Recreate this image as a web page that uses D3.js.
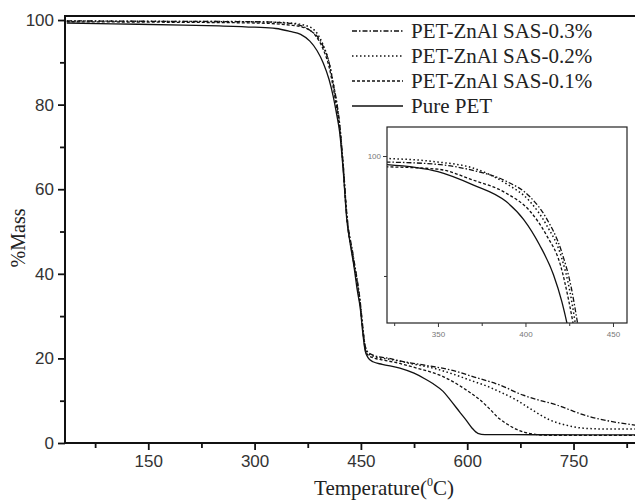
<!DOCTYPE html>
<html><head><meta charset="utf-8">
<script src="https://cdn.jsdelivr.net/npm/d3@7"></script>
<style>body{margin:0;background:#fff}svg{display:block}</style>
</head><body>
<svg id="c" width="635" height="500"></svg>
<script>
// ---------- data ----------
const seriesNames = ["PET-ZnAl SAS-0.3%","PET-ZnAl SAS-0.2%","PET-ZnAl SAS-0.1%","Pure PET"];

// main chart: temperature (°C) and %mass
const tempPure = [35,100,200,250,300,330,350,365,378,388,397,405,411,416,420,425,430,435,440,445,449,453,456,460,467,480,505,525,540,552,566,576,590,599,607,615,625,700,850];
const massPure = [99.3,99.1,98.8,98.6,98.3,98.0,97.3,96.6,95.0,92.8,89.8,86.0,81.9,77.5,73.5,64.5,53,47,42,36,32,25.5,21.8,20.2,19.2,18.6,17.7,16.5,15.2,14.0,12.2,10.2,7.2,5.3,3.5,2.3,2.0,1.95,1.9];

const temp01 = [35,150,300,350,370,385,397,405,411,416,420,425,430,439,449,453,456,460,470,482,505,529,550,566,585,599,618,632,645,656,670,693,720,850];
const mass01 = [99.6,99.5,99.3,98.8,98.2,96.5,93,89,84,79,74.5,65,53.5,43.5,32.5,26,22.3,20.8,20,19.6,18.8,17.7,16.7,15.7,14,12.5,10.2,8,5.8,4.5,3.2,2.1,1.8,1.8];

const temp02 = [35,150,300,350,370,385,397,405,411,416,420,425,430,439,449,453,456,460,470,490,520,552,580,605,627,646,669,690,717,740,764,800,850];
const mass02 = [99.8,99.7,99.6,99.3,98.8,97.5,94,90,85,80,75,65.5,54,44,33,26.5,22.8,21.2,20.4,19.8,18.8,17.7,16.3,14.8,13.5,12.1,10.2,8,5.4,4.2,3.5,3.3,3.3];

const temp03 = [35,150,300,350,378,397,405,411,416,420,425,430,439,449,453,456,460,470,490,505,540,576,610,632,646,679,700,726,750,773,800,834,850];
const mass03 = [99.8,99.7,99.6,99.2,97.6,93.7,90,85,80.5,75.5,66,54.5,44.5,33.5,27,23,21.5,20.6,20,19.4,18.4,17.3,15.6,14.5,13.7,11.3,10.2,9,7.5,6.2,5.2,4.3,4.0];

// inset (zoom of the onset of decomposition)
const insetTempPure = [320,350,370,389,399,408,416,420.7,423.5,426];
const insetMassPure = [99.3,98.7,97.6,96.2,94.7,92.6,90.1,87.9,86.2,84.5];
const insetTemp01 = [320,350,370,389,402.6,412,420,424.5,427,429];
const insetMass01 = [99.1,98.9,98.0,96.9,95.4,93.4,90.9,88.1,86.2,84.5];
const insetTemp02 = [320,350,370,389,402.6,412,420.7,425.4,428.3,430];
const insetMass02 = [99.8,99.5,99.0,97.7,96.2,94.25,91.5,88.7,86.2,84.5];
const insetTemp03 = [320,350,370,389,402.6,412,420.7,426.2,429.6,431.5];
const insetMass03 = [99.5,99.3,98.8,97.9,96.6,94.8,92.0,89.0,86.2,84.5];

// ticks
const xMajorTicks = [150,300,450,600,750];
const xMinorTicks = [75,225,375,525,675,825];
const yMajorTicks = [0,20,40,60,80,100];
const yMinorTicks = [10,30,50,70,90];
const insetXMajor = [350,400,450];
const insetXMinor = [325,375,425];
const insetYMajor = [100];
const insetYMinor = [90];

// ---------- drawing ----------
const dashes = ["5,2,1.5,2","1.5,2.5","3,2",null];
const widths = [1.3,1.5,1.3,1.3];
const mainT = [temp03,temp02,temp01,tempPure];
const mainM = [mass03,mass02,mass01,massPure];
const insT = [insetTemp03,insetTemp02,insetTemp01,insetTempPure];
const insM = [insetMass03,insetMass02,insetMass01,insetMassPure];

const svg = d3.select("#c");
const x = d3.scaleLinear().domain([32.5,850]).range([65,644.4]);
const y = d3.scaleLinear().domain([0,101]).range([443,15.8]);

svg.append("defs").append("clipPath").attr("id","mainclip")
  .append("rect").attr("x",65).attr("y",15).attr("width",575).attr("height",428);

const line = d3.line().x(d=>x(d[0])).y(d=>y(d[1])).curve(d3.curveMonotoneX);
const gCurves = svg.append("g").attr("clip-path","url(#mainclip)");
mainT.forEach((T,i)=>{
  const pts = T.map((t,j)=>[t,mainM[i][j]]);
  gCurves.append("path").attr("d",line(pts)).attr("fill","none")
    .attr("stroke","#111").attr("stroke-width",widths[i])
    .attr("stroke-dasharray",dashes[i]);
});

// axes
const axisColor = "#111";
const xAxis = svg.append("g").attr("transform","translate(0,443)");
xAxis.call(d3.axisBottom(x).tickValues(xMajorTicks).tickSize(7).tickPadding(5).tickFormat(d3.format("d")));
const xMinor = svg.append("g").attr("transform","translate(0,443)");
xMinor.call(d3.axisBottom(x).tickValues(xMinorTicks).tickSize(5).tickFormat(""));
const yAxis = svg.append("g").attr("transform","translate(65,0)");
yAxis.call(d3.axisLeft(y).tickValues(yMajorTicks).tickSize(7).tickPadding(4).tickFormat(d3.format("d")));
const yMinor = svg.append("g").attr("transform","translate(65,0)");
yMinor.call(d3.axisLeft(y).tickValues(yMinorTicks).tickSize(5).tickFormat(""));
[xAxis,xMinor,yAxis,yMinor].forEach(g=>{
  g.select(".domain").remove();
  g.selectAll("line").attr("stroke",axisColor).attr("stroke-width",1.8);
  g.selectAll("text").attr("font-family","Liberation Sans, Arial, sans-serif")
    .attr("font-size",17).attr("fill","#333");
});
// axis lines and top frame
svg.append("line").attr("x1",64).attr("x2",635).attr("y1",443).attr("y2",443).attr("stroke",axisColor).attr("stroke-width",2);
svg.append("line").attr("x1",65).attr("x2",65).attr("y1",15).attr("y2",444).attr("stroke",axisColor).attr("stroke-width",2);
svg.append("line").attr("x1",64).attr("x2",635).attr("y1",16).attr("y2",16).attr("stroke",axisColor).attr("stroke-width",2);

// axis titles
const xt = svg.append("text").attr("x",384).attr("y",495).attr("text-anchor","middle")
  .attr("font-family","Liberation Serif, Times New Roman, serif").attr("font-size",21).attr("fill","#222");
xt.append("tspan").text("Temperature(");
xt.append("tspan").attr("font-size",12).attr("dy",-9).text("0");
xt.append("tspan").attr("dy",9).text("C)");
svg.append("text").attr("transform","translate(25,238) rotate(-90)").attr("text-anchor","middle")
  .attr("font-family","Liberation Serif, Times New Roman, serif").attr("font-size",20).attr("fill","#222")
  .text("%Mass");

// legend
const legend = svg.append("g");
seriesNames.forEach((name,i)=>{
  const by = 38 + i*25;
  legend.append("line").attr("x1",352).attr("x2",403).attr("y1",by-7).attr("y2",by-7)
    .attr("stroke","#111").attr("stroke-width",widths[i]).attr("stroke-dasharray",dashes[i]);
  legend.append("text").attr("x",411).attr("y",by)
    .attr("font-family","Liberation Serif, Times New Roman, serif").attr("font-size",21).attr("fill","#222")
    .text(name);
});

// inset
const ix = d3.scaleLinear().domain([320.9,458]).range([387,627]);
const iy = d3.scaleLinear().domain([86.08,102.42]).range([323,127]);
const inset = svg.append("g");
inset.append("rect").attr("x",387).attr("y",127).attr("width",240).attr("height",196).attr("fill","#fff");
svg.select("defs").append("clipPath").attr("id","insetclip")
  .append("rect").attr("x",387).attr("y",127).attr("width",240).attr("height",196);
const iline = d3.line().x(d=>ix(d[0])).y(d=>iy(d[1])).curve(d3.curveMonotoneX);
const gi = inset.append("g").attr("clip-path","url(#insetclip)");
insT.forEach((T,i)=>{
  const pts = T.map((t,j)=>[t,insM[i][j]]);
  gi.append("path").attr("d",iline(pts)).attr("fill","none")
    .attr("stroke","#111").attr("stroke-width",widths[i])
    .attr("stroke-dasharray",dashes[i]);
});
inset.append("rect").attr("x",387).attr("y",127).attr("width",240).attr("height",196)
  .attr("fill","none").attr("stroke","#222").attr("stroke-width",1.2);
const ixa = inset.append("g").attr("transform","translate(0,323)")
  .call(d3.axisBottom(ix).tickValues(insetXMajor).tickSize(4).tickPadding(4).tickFormat(d3.format("d")));
const ixm = inset.append("g").attr("transform","translate(0,323)")
  .call(d3.axisBottom(ix).tickValues(insetXMinor).tickSize(3).tickFormat(""));
const iya = inset.append("g").attr("transform","translate(387,0)")
  .call(d3.axisLeft(iy).tickValues(insetYMajor).tickSize(4).tickPadding(2).tickFormat(d3.format("d")));
const iym = inset.append("g").attr("transform","translate(387,0)")
  .call(d3.axisLeft(iy).tickValues(insetYMinor).tickSize(3).tickFormat(""));
[ixa,ixm,iya,iym].forEach(g=>{
  g.select(".domain").remove();
  g.selectAll("line").attr("stroke","#333").attr("stroke-width",1);
  g.selectAll("text").attr("font-family","Liberation Sans, Arial, sans-serif")
    .attr("font-size",8).attr("fill","#777");
});
</script>
</body></html>
